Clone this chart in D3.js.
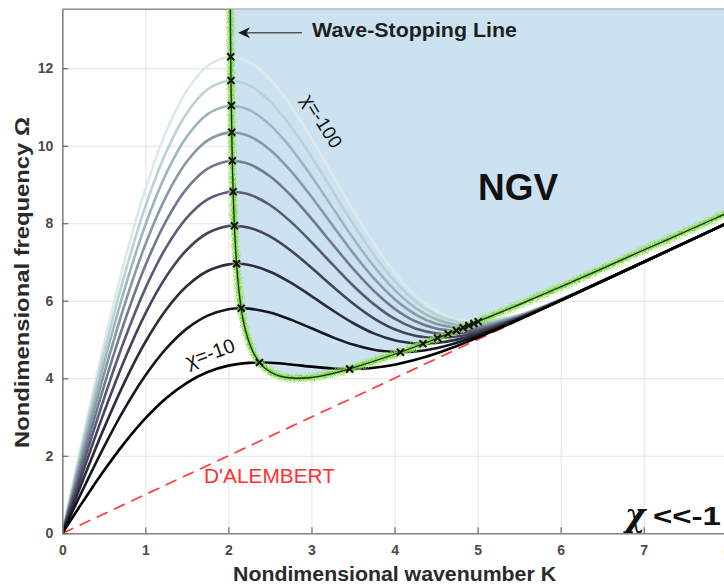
<!DOCTYPE html>
<html>
<head>
<meta charset="utf-8">
<script src="https://cdn.jsdelivr.net/npm/d3@7"></script>
<style>
  html, body { margin: 0; padding: 0; background: #fff; }
  svg { display: block; }
  text { font-family: "Liberation Sans", Arial, Helvetica, sans-serif; }
</style>
</head>
<body>
<svg id="chart" width="724" height="587"></svg>
<script>
// Wavenumber samples shared by every dispersion curve
const K = [0, 0.25, 0.5, 0.75, 1, 1.25, 1.5, 1.75, 2, 2.25, 2.5, 2.75, 3, 3.25, 3.5, 3.75, 4, 4.25, 4.5, 4.75, 5, 5.5, 6, 7, 8.5];

// Coupling parameter of each curve
const chi = [-10, -20, -30, -40, -50, -60, -70, -80, -90, -100];

// Frequency Omega at each K, one list per chi
const omegaChi10  = [0, 0.823, 1.612, 2.334, 2.964, 3.484, 3.882, 4.160, 4.326, 4.398, 4.399, 4.357, 4.300, 4.254, 4.240, 4.271, 4.351, 4.476, 4.640, 4.834, 5.048, 5.514, 6.004, 7.000, 8.5];
const omegaChi20  = [0, 1.137, 2.224, 3.215, 4.071, 4.765, 5.281, 5.617, 5.782, 5.798, 5.697, 5.513, 5.289, 5.062, 4.869, 4.735, 4.676, 4.692, 4.776, 4.916, 5.096, 5.528, 6.007, 7.000, 8.5];
const omegaChi30  = [0, 1.381, 2.701, 3.902, 4.936, 5.769, 6.380, 6.767, 6.939, 6.921, 6.749, 6.467, 6.120, 5.759, 5.426, 5.158, 4.979, 4.898, 4.909, 4.997, 5.143, 5.543, 6.011, 7.000, 8.5];
const omegaChi40  = [0, 1.589, 3.106, 4.485, 5.670, 6.622, 7.316, 7.748, 7.928, 7.885, 7.659, 7.296, 6.852, 6.379, 5.930, 5.548, 5.265, 5.096, 5.038, 5.076, 5.189, 5.557, 6.015, 7.001, 8.5];
const omegaChi50  = [0, 1.772, 3.463, 5.000, 6.320, 7.377, 8.146, 8.618, 8.808, 8.744, 8.471, 8.041, 7.512, 6.945, 6.395, 5.913, 5.536, 5.286, 5.163, 5.154, 5.236, 5.571, 6.018, 7.001, 8.5];
const omegaChi60  = [0, 1.938, 3.787, 5.467, 6.909, 8.062, 8.898, 9.408, 9.607, 9.526, 9.212, 8.722, 8.119, 7.467, 6.828, 6.257, 5.795, 5.470, 5.286, 5.232, 5.282, 5.585, 6.022, 7.001, 8.5];
const omegaChi70  = [0, 2.090, 4.085, 5.897, 7.451, 8.693, 9.591, 10.137, 10.344, 10.248, 9.897, 9.353, 8.683, 7.956, 7.236, 6.582, 6.043, 5.647, 5.406, 5.308, 5.327, 5.599, 6.026, 7.001, 8.5];
const omegaChi80  = [0, 2.233, 4.363, 6.298, 7.956, 9.281, 10.238, 10.817, 11.033, 10.922, 10.538, 9.945, 9.213, 8.416, 7.621, 6.893, 6.280, 5.819, 5.523, 5.383, 5.372, 5.613, 6.030, 7.001, 8.5];
const omegaChi90  = [0, 2.367, 4.625, 6.674, 8.432, 9.834, 10.846, 11.456, 11.681, 11.558, 11.143, 10.503, 9.715, 8.852, 7.988, 7.189, 6.510, 5.987, 5.638, 5.456, 5.417, 5.627, 6.033, 7.002, 8.5];
const omegaChi100 = [0, 2.493, 4.872, 7.031, 8.882, 10.358, 11.421, 12.062, 12.294, 12.160, 11.716, 11.034, 10.191, 9.268, 8.339, 7.475, 6.731, 6.150, 5.750, 5.529, 5.461, 5.641, 6.037, 7.002, 8.5];
const omegaSeries = [omegaChi10, omegaChi20, omegaChi30, omegaChi40, omegaChi50, omegaChi60, omegaChi70, omegaChi80, omegaChi90, omegaChi100];

// Local maximum and minimum of each curve (same order as chi)
const maxK     = [2.374, 2.154, 2.098, 2.072, 2.057, 2.047, 2.040, 2.035, 2.031, 2.028];
const maxOmega = [4.406, 5.808, 6.953, 7.937, 8.814, 9.612, 10.349, 11.036, 11.684, 12.297];
const minK     = [3.459, 4.070, 4.342, 4.517, 4.644, 4.744, 4.826, 4.895, 4.955, 5.007];
const minOmega = [4.240, 4.673, 4.892, 5.037, 5.145, 5.232, 5.302, 5.362, 5.415, 5.461];

// Wave-stopping line (zero group velocity), bounding the NGV region
const stopK     = [2.02, 2.025, 2.03, 2.04, 2.05, 2.07, 2.1, 2.15, 2.2, 2.3, 2.4, 2.5, 2.6, 2.7, 2.83, 3.0, 3.25, 3.5, 4, 4.5, 5, 5.5, 6, 6.5, 7, 7.5, 8, 8.5];
const stopOmega = [14.39, 12.93, 11.85, 10.35, 9.34, 8.03, 6.89, 5.86, 5.28, 4.66, 4.34, 4.17, 4.07, 4.02, 4.00, 4.02, 4.12, 4.27, 4.62, 5.02, 5.46, 5.90, 6.36, 6.83, 7.31, 7.78, 8.26, 8.74];

// d'Alembert (non-dispersive) line Omega = K
const alembertK     = [0, 8];
const alembertOmega = [0, 8];

// Axis ticks
const xTicks = [0, 1, 2, 3, 4, 5, 6, 7, 8];
const yTicks = [0, 2, 4, 6, 8, 10, 12];

// Curve colours, dark (chi=-10) to pale (chi=-100)
const curveColors = ["#000000", "#161620", "#2d2d3e", "#43435c", "#595b79", "#707a8f", "#8699a6", "#9cb8bc", "#b9d2d2", "#dce9e9"];

const svg = d3.select("#chart");
const plotLeft = 62.3, plotRight = 726.8, plotTop = 9.3, plotBottom = 533.3;
const x = d3.scaleLinear().domain([0, 8]).range([plotLeft, plotRight]);
const y = d3.scaleLinear().domain([0, 13.52]).range([plotBottom, plotTop]);

const defs = svg.append("defs");
defs.append("clipPath").attr("id", "plotClip")
  .append("rect").attr("x", plotLeft).attr("y", plotTop)
  .attr("width", plotRight - plotLeft).attr("height", plotBottom - plotTop);
const speckle = defs.append("filter").attr("id", "speckle")
  .attr("x", "-10%").attr("y", "-10%").attr("width", "120%").attr("height", "120%");
speckle.append("feTurbulence").attr("type", "fractalNoise").attr("baseFrequency", 1.1)
  .attr("numOctaves", 2).attr("seed", 3).attr("result", "noise");
speckle.append("feDisplacementMap").attr("in", "SourceGraphic").attr("in2", "noise")
  .attr("scale", 7).attr("xChannelSelector", "R").attr("yChannelSelector", "G");

// Grid
svg.append("g").attr("transform", `translate(0,${plotBottom})`)
  .call(d3.axisBottom(x).tickValues(xTicks).tickSize(-(plotBottom - plotTop)).tickFormat(""))
  .call(g => g.select(".domain").remove())
  .call(g => g.selectAll("line").attr("stroke", "#e4e4e4").attr("stroke-width", 1));
svg.append("g").attr("transform", `translate(${plotLeft},0)`)
  .call(d3.axisLeft(y).tickValues(yTicks).tickSize(-(plotRight - plotLeft)).tickFormat(""))
  .call(g => g.select(".domain").remove())
  .call(g => g.selectAll("line").attr("stroke", "#e4e4e4").attr("stroke-width", 1));

// Top border of the axes box
svg.append("line").attr("x1", plotLeft).attr("x2", plotRight).attr("y1", plotTop).attr("y2", plotTop)
  .attr("stroke", "#8a8a8a").attr("stroke-width", 1.5);

const plot = svg.append("g").attr("clip-path", "url(#plotClip)");
const smooth = d3.line().x(d => x(d[0])).y(d => y(d[1])).curve(d3.curveCatmullRom.alpha(0.5));

// NGV region: above the wave-stopping line
const stopPts = stopK.map((k, i) => [k, stopOmega[i]]);
const regionPath = smooth(stopPts) +
  `L${x(stopK[stopK.length - 1])},${y(stopOmega[0])}Z`;
plot.append("path").attr("d", regionPath).attr("fill", "#cde2f0");

// d'Alembert line
plot.append("path")
  .attr("d", d3.line().x(d => x(d[0])).y(d => y(d[1]))(alembertK.map((k, i) => [k, alembertOmega[i]])))
  .attr("fill", "none").attr("stroke", "#ff3b3b").attr("stroke-width", 1.7)
  .attr("stroke-dasharray", "12,7");

// Dispersion curves, pale ones underneath
const order = d3.range(chi.length).reverse();
order.forEach(i => {
  const pts = K.map((k, j) => [k, omegaSeries[i][j]])
    .concat([[maxK[i], maxOmega[i]], [minK[i], minOmega[i]]])
    .sort((a, b) => a[0] - b[0]);
  plot.append("path").attr("d", smooth(pts))
    .attr("fill", "none").attr("stroke", curveColors[i])
    .attr("stroke-width", 2.6).attr("stroke-linejoin", "round");
});

// Wave-stopping line: speckled green band with a thin black core
plot.append("path").attr("d", smooth(stopPts))
  .attr("fill", "none").attr("stroke", "#9fe46a").attr("stroke-width", 8)
  .attr("stroke-opacity", 0.6).attr("filter", "url(#speckle)");
plot.append("path").attr("d", smooth(stopPts))
  .attr("fill", "none").attr("stroke", "#78d63a").attr("stroke-width", 4)
  .attr("stroke-opacity", 0.9).attr("filter", "url(#speckle)");
plot.append("path").attr("d", smooth(stopPts))
  .attr("fill", "none").attr("stroke", "#1c2a14").attr("stroke-width", 1.3);

// Extremum markers
const extrema = maxK.map((k, i) => [k, maxOmega[i]]).concat(minK.map((k, i) => [k, minOmega[i]]));
plot.selectAll("path.mark").data(extrema).enter().append("path")
  .attr("class", "mark")
  .attr("transform", d => `translate(${x(d[0])},${y(d[1])})`)
  .attr("d", "M-3.5,-3.5L3.5,3.5M-3.5,3.5L3.5,-3.5")
  .attr("stroke", "#111").attr("stroke-width", 2);

// Axes with inward ticks
const xAxis = svg.append("g").attr("transform", `translate(0,${plotBottom})`)
  .call(d3.axisBottom(x).tickValues(xTicks).tickSizeInner(-6).tickSizeOuter(0).tickPadding(12).tickFormat(d3.format("d")));
const yAxis = svg.append("g").attr("transform", `translate(${plotLeft},0)`)
  .call(d3.axisLeft(y).tickValues(yTicks).tickSizeInner(-6).tickSizeOuter(0).tickPadding(9).tickFormat(d3.format("d")));
[xAxis, yAxis].forEach(g => {
  g.select(".domain").attr("stroke", "#858585").attr("stroke-width", 1.6);
  g.selectAll(".tick line").attr("stroke", "#6a6a6a").attr("stroke-width", 1.2);
  g.selectAll(".tick text").attr("fill", "#4a4a4a")
    .style("font-family", "'Liberation Sans', Arial, sans-serif")
    .style("font-size", "14px").style("font-weight", "bold");
});

// Axis titles
svg.append("text").attr("x", (plotLeft + plotRight) / 2).attr("y", 581)
  .attr("text-anchor", "middle").attr("fill", "#2a2a2a")
  .style("font-size", "20px").style("font-weight", "bold")
  .attr("textLength", 323).attr("lengthAdjust", "spacingAndGlyphs")
  .text("Nondimensional wavenumber K");
svg.append("text").attr("transform", "translate(29,282.5) rotate(-90)")
  .attr("text-anchor", "middle").attr("fill", "#2a2a2a")
  .style("font-size", "20px").style("font-weight", "bold")
  .attr("textLength", 331).attr("lengthAdjust", "spacingAndGlyphs")
  .text("Nondimensional frequency Ω");

// Annotations
svg.append("line").attr("x1", 302).attr("x2", 241).attr("y1", 32.7).attr("y2", 32.7)
  .attr("stroke", "#555").attr("stroke-width", 1.6);
svg.append("path").attr("d", "M238,32.7L250,27.2L246.5,32.7L250,38.2Z").attr("fill", "#1a1a1a");
svg.append("text").attr("x", 312).attr("y", 36.5).attr("fill", "#1e1e1e")
  .style("font-size", "20px").style("font-weight", "bold")
  .attr("textLength", 205).attr("lengthAdjust", "spacingAndGlyphs")
  .text("Wave-Stopping Line");

svg.append("text").attr("x", 518).attr("y", 200).attr("text-anchor", "middle")
  .attr("fill", "#111").style("font-size", "37px").style("font-weight", "bold").text("NGV");

svg.append("text").attr("transform", "translate(322,121) rotate(58)")
  .attr("text-anchor", "middle").attr("dy", "0.35em").attr("fill", "#111")
  .style("font-size", "19px").text("χ=-100");
svg.append("text").attr("transform", "translate(210,353) rotate(-20)")
  .attr("text-anchor", "middle").attr("dy", "0.35em").attr("fill", "#111")
  .style("font-size", "20px").text("χ=-10");

svg.append("text").attr("x", 204).attr("y", 483).attr("fill", "#ff3030")
  .style("font-size", "20px").attr("textLength", 131).attr("lengthAdjust", "spacingAndGlyphs")
  .text("D'ALEMBERT");

// Regime label in the lower-right corner
svg.append("text").attr("x", 625).attr("y", 526).attr("fill", "#111")
  .style("font-family", "'DejaVu Serif', serif").style("font-style", "italic")
  .style("font-weight", "bold").style("font-size", "31px").text("χ");
svg.append("text").attr("x", 653).attr("y", 525).attr("fill", "#111")
  .style("font-size", "25px").style("font-weight", "bold")
  .attr("textLength", 68).attr("lengthAdjust", "spacingAndGlyphs").text("<<-1");
</script>
</body>
</html>
